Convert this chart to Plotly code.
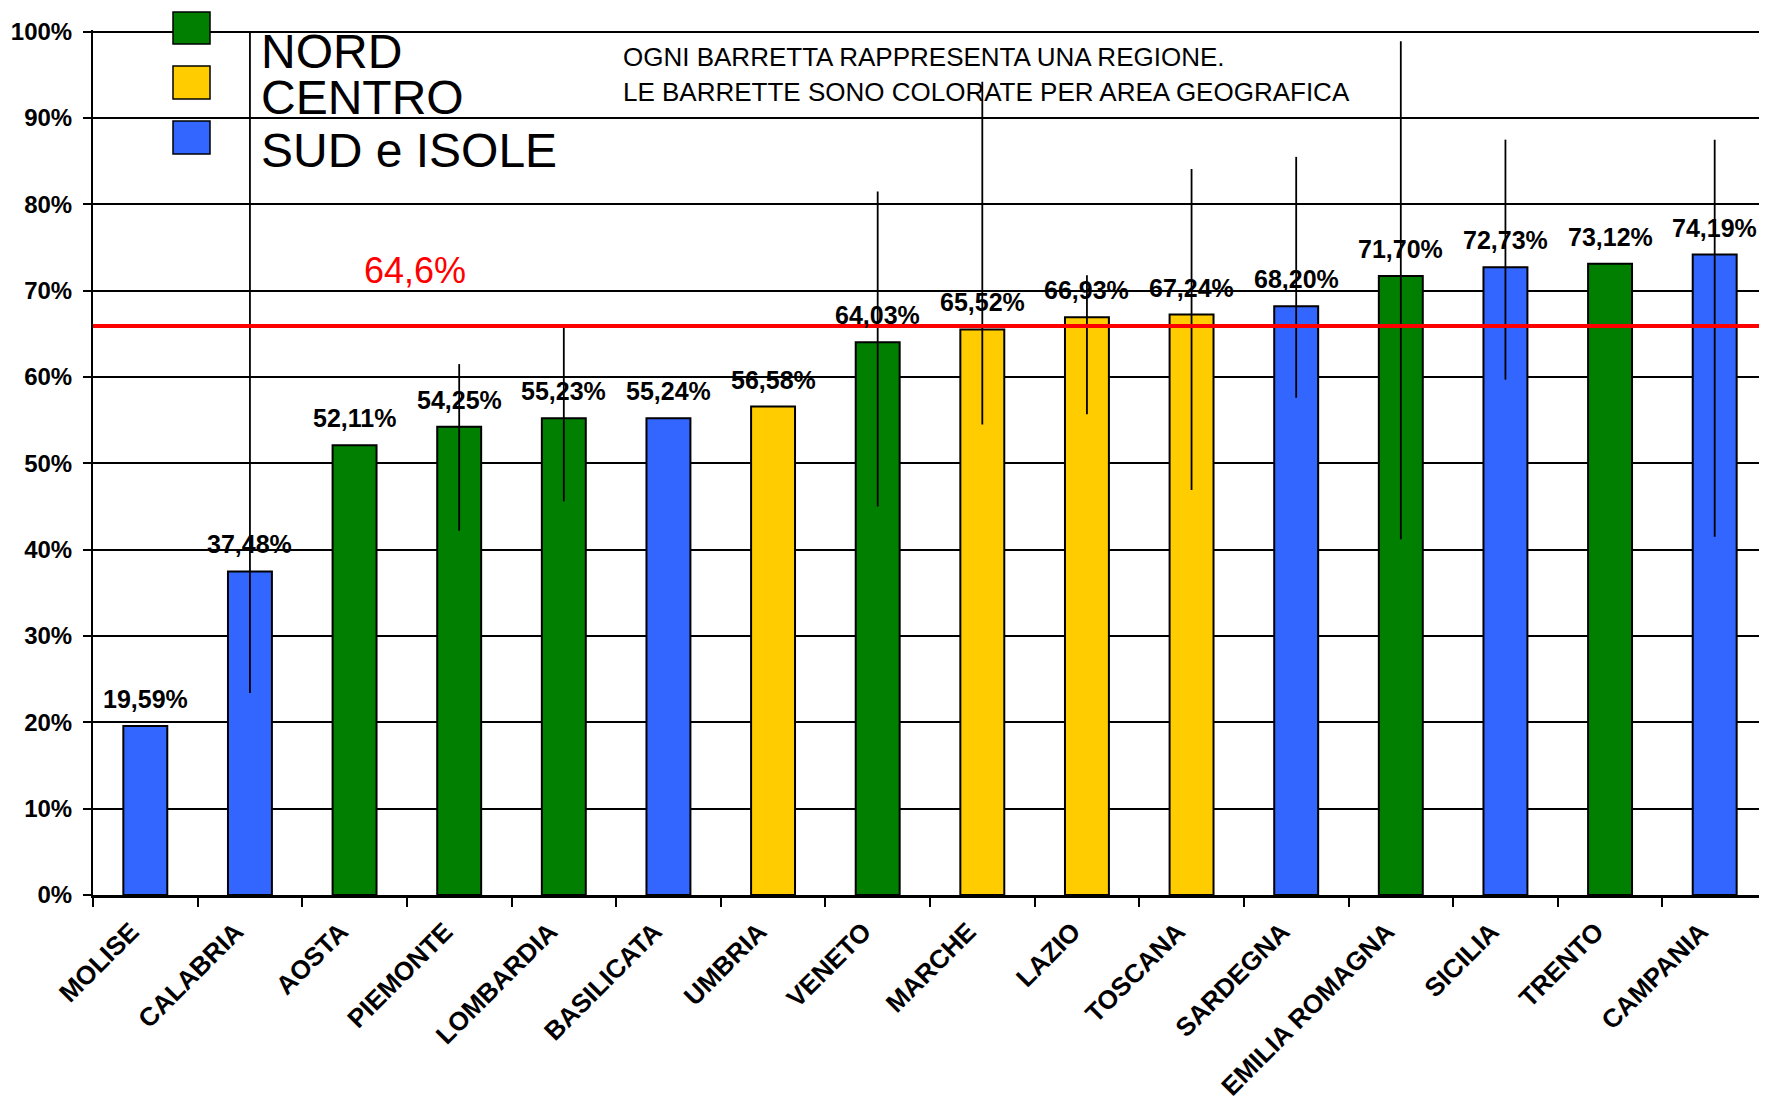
import plotly.graph_objects as go

# dati
regioni = ["MOLISE", "CALABRIA", "AOSTA", "PIEMONTE", "LOMBARDIA", "BASILICATA",
           "UMBRIA", "VENETO", "MARCHE", "LAZIO", "TOSCANA", "SARDEGNA",
           "EMILIA ROMAGNA", "SICILIA", "TRENTO", "CAMPANIA"]
valori = [19.59, 37.48, 52.11, 54.25, 55.23, 55.24, 56.58, 64.03,
          65.52, 66.93, 67.24, 68.20, 71.70, 72.73, 73.12, 74.19]
aree = ["SUD", "SUD", "NORD", "NORD", "NORD", "SUD", "CENTRO", "NORD",
        "CENTRO", "CENTRO", "CENTRO", "SUD", "NORD", "SUD", "NORD", "SUD"]
# estremi delle barre d'errore (None = nessuna barra)
err_alto = [None, 100.0, None, 61.5, 65.8, None, None, 81.5,
            94.2, 71.8, 84.1, 85.5, 98.9, 87.5, None, 87.5]
err_basso = [None, 23.4, None, 42.2, 45.6, None, None, 45.0,
             54.5, 55.7, 46.9, 57.6, 41.2, 59.7, None, 41.5]
media_label = "64,6%"
media_y = 65.9
tick_y = [0, 10, 20, 30, 40, 50, 60, 70, 80, 90, 100]

COLORI = {"NORD": "#007F00", "CENTRO": "#FFCC00", "SUD": "#3366FF"}
FONT = "Liberation Sans, Arial, sans-serif"

# area del grafico nella pagina (il body ha 8px di margine)
X0, X1, Y_TOP, Y_BOT = 93, 1767, 30, 895


def px(x):
    return (x - X0) / (X1 - X0)


def py(y):
    return (Y_BOT - y) / (Y_BOT - Y_TOP)


plus = [(h - v) if h is not None else 0 for h, v in zip(err_alto, valori)]
minus = [(v - b) if b is not None else 0 for b, v in zip(err_basso, valori)]

fig = go.Figure()
fig.add_trace(go.Bar(
    x=regioni,
    y=valori,
    width=0.42,
    marker=dict(color=[COLORI[a] for a in aree], line=dict(color="black", width=2)),
    error_y=dict(type="data", symmetric=False, array=plus, arrayminus=minus,
                 color="black", thickness=1.8, width=0),
    showlegend=False,
))

# etichette dei valori sopra le barre
for r, v in zip(regioni, valori):
    fig.add_annotation(x=r, y=v, text=f"{v:.2f}%".replace(".", ","),
                       showarrow=False, yanchor="middle", yshift=27,
                       font=dict(family=FONT, size=25, color="black", weight="bold"))

# linea della media
fig.add_shape(type="line", xref="paper", x0=0, x1=1, yref="y", y0=media_y, y1=media_y,
              line=dict(color="#FF0000", width=4))
fig.add_annotation(xref="paper", x=px(415), yref="y", y=72.3, xanchor="center",
                   text=media_label, showarrow=False,
                   font=dict(family=FONT, size=36, color="#FF0000"))

# legenda fatta a mano
leg = [("NORD", 12, 44, 51), ("CENTRO", 66, 99, 98), ("SUD e ISOLE", 121, 154, 150)]
for nome, top, bot, ytxt in leg:
    area = nome.split()[0]
    fig.add_shape(type="rect", xref="paper", yref="paper", x0=px(173), x1=px(210),
                  y0=py(bot), y1=py(top), fillcolor=COLORI[area],
                  line=dict(color="black", width=1.5))
    fig.add_annotation(xref="paper", yref="paper", x=px(259), y=py(ytxt),
                       xanchor="left", yanchor="middle", text=nome, showarrow=False,
                       font=dict(family=FONT, size=48, color="black"))

note = ["OGNI BARRETTA RAPPRESENTA UNA REGIONE.",
        "LE BARRETTE SONO COLORATE PER AREA GEOGRAFICA"]
for riga, ytxt in zip(note, [57, 92]):
    fig.add_annotation(xref="paper", yref="paper", x=px(621), y=py(ytxt),
                       xanchor="left", yanchor="middle", showarrow=False, text=riga,
                       font=dict(family=FONT, size=26, color="black"))

fig.update_xaxes(
    type="category", tickangle=-45, showline=True, linecolor="black", linewidth=3,
    ticks="outside", tickson="boundaries", ticklen=9, tickwidth=2, tickcolor="black",
    tickfont=dict(family=FONT, size=26, color="black", weight="bold"),
    ticklabelshift=-14, ticklabelstandoff=8,
    showgrid=False, automargin=False,
)
fig.update_yaxes(
    range=[0, 100.2], tickvals=tick_y, ticktext=[f"{t}%" for t in tick_y],
    showline=True, linecolor="black", linewidth=2, ticks="outside", ticklen=8,
    tickwidth=2, tickcolor="black", ticklabelstandoff=6,
    showgrid=True, gridcolor="black", gridwidth=2, zeroline=False,
    tickfont=dict(family=FONT, size=24, color="black", weight="bold"),
    automargin=False,
)
fig.update_layout(
    width=1759, height=1089,
    margin=dict(l=X0 - 8, r=0, t=Y_TOP - 8, b=1089 - (Y_BOT - 8)),
    plot_bgcolor="white", paper_bgcolor="white",
)

fig.write_html("out.html")
